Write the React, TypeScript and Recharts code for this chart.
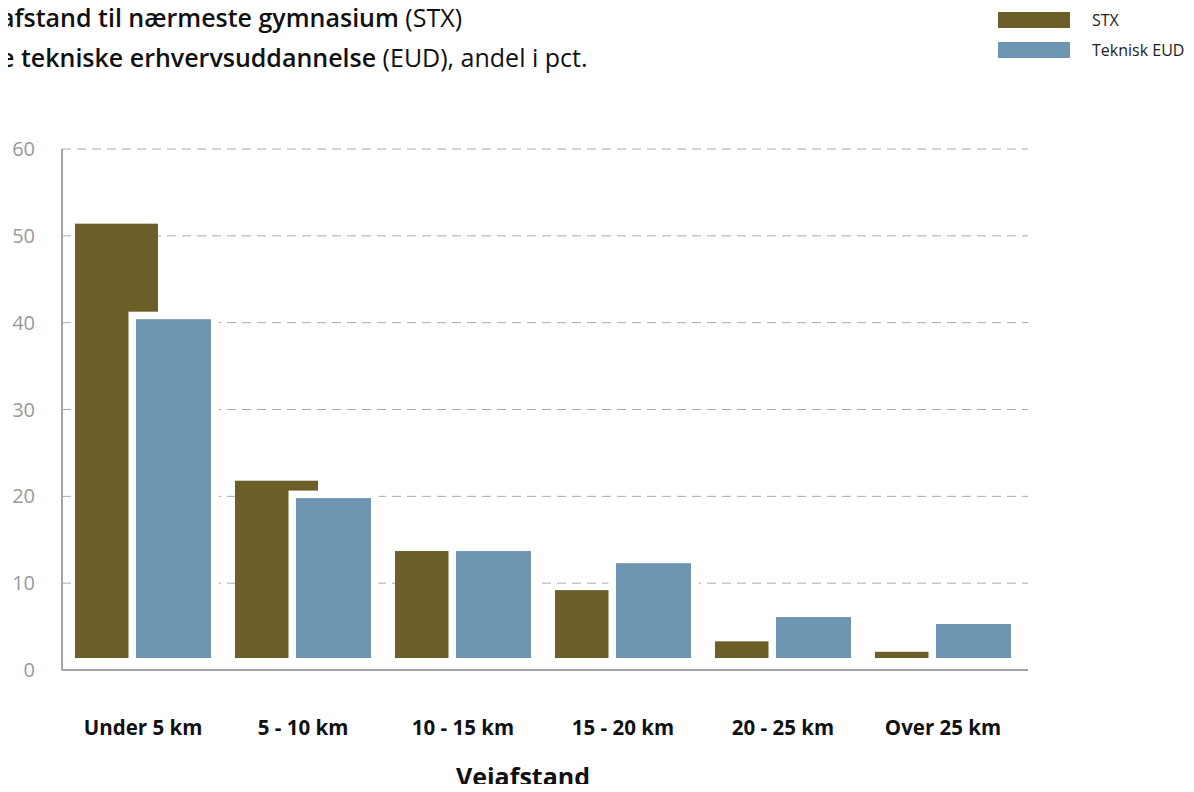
import React from "react";
import { BarChart, Bar, XAxis, YAxis, CartesianGrid } from "recharts";

const categories = ["Under 5 km", "5 - 10 km", "10 - 15 km", "15 - 20 km", "20 - 25 km", "Over 25 km"];
const stxValues = [51.4, 21.8, 13.7, 9.2, 3.3, 2.1];
const eudValues = [40.4, 19.8, 13.7, 12.3, 6.1, 5.3];
const yTicks = [0, 10, 20, 30, 40, 50, 60];

const STX_COLOR = "#6b5e28";
const EUD_COLOR = "#6e96b2";
const FONT = "'Open Sans', 'Noto Sans', sans-serif";

const data = categories.map((c, i) => ({ name: c, stx: stxValues[i], eud: eudValues[i] }));

// bars stop a little above the zero line in the original
const BOTTOM_GAP = 12;

const StxShape = (props: any) => {
  const { x, y, width, height } = props;
  const h = Math.max(0, height - BOTTOM_GAP);
  return <rect x={x} y={y} width={width} height={h} fill={STX_COLOR} />;
};

const EudShape = (props: any) => {
  const { x, y, width, height } = props;
  const h = Math.max(0, height - BOTTOM_GAP);
  const pad = 7.5;
  return (
    <g>
      <rect x={x - pad} y={y - pad} width={width + pad * 2} height={h + pad} fill="#fff" />
      <rect x={x} y={y} width={width} height={h} fill={EUD_COLOR} />
    </g>
  );
};

const XTick = (props: any) => {
  const { x, y, payload } = props;
  return (
    <text x={x} y={y + 63} textAnchor="middle" fontFamily={FONT} fontWeight={700} fontSize={20.5} fill="#111">
      {payload.value}
    </text>
  );
};

const YTick = (props: any) => {
  const { y, payload } = props;
  return (
    <text x={35} y={y + 7} textAnchor="end" fontFamily={FONT} fontSize={20} fill="#9a9a9a">
      {payload.value}
    </text>
  );
};

export default function App() {
  return (
    <div style={{ position: "relative", width: 1194, height: 792, margin: -8, overflow: "hidden", background: "#fff", fontFamily: FONT }}>
      <div style={{ position: "absolute", left: 0, top: 1, fontSize: 25, color: "#111", lineHeight: "33px", whiteSpace: "nowrap" }}>
        <div>
          <span style={{ fontWeight: 600 }}>afstand til nærmeste gymnasium</span> (STX)
        </div>
        <div style={{ marginTop: 7 }}>
          <span style={{ fontWeight: 600 }}>e tekniske erhvervsuddannelse</span> (EUD), andel i pct.
        </div>
      </div>

      <div style={{ position: "absolute", left: 998, top: 12, fontSize: 16, color: "#222" }}>
        <div style={{ display: "flex", alignItems: "center", height: 16, marginBottom: 14 }}>
          <div style={{ width: 72, height: 16, background: STX_COLOR }} />
          <span style={{ marginLeft: 22, whiteSpace: "nowrap" }}>STX</span>
        </div>
        <div style={{ display: "flex", alignItems: "center", height: 16 }}>
          <div style={{ width: 72, height: 16, background: EUD_COLOR }} />
          <span style={{ marginLeft: 22, whiteSpace: "nowrap" }}>Teknisk EUD</span>
        </div>
      </div>

      <div style={{ position: "absolute", left: 0, top: 0 }}>
        <BarChart
          width={1194}
          height={792}
          data={data}
          margin={{ top: 149, right: 166, bottom: 62, left: 0 }}
          barGap={-22}
          barCategoryGap={0}
        >
          <CartesianGrid vertical={false} stroke="#aaa" strokeDasharray="9 6" />
          <XAxis
            dataKey="name"
            height={60}
            tickLine={false}
            tickSize={0}
            tick={<XTick />}
            axisLine={{ stroke: "#a5a5a5", strokeWidth: 2 }}
            padding={{ left: 1, right: 5 }}
            interval={0}
          />
          <YAxis
            width={62}
            domain={[0, 60]}
            ticks={yTicks}
            tickLine={false}
            tick={<YTick />}
            axisLine={{ stroke: "#a5a5a5", strokeWidth: 2 }}
          />
          <Bar dataKey="stx" barSize={83} shape={<StxShape />} isAnimationActive={false} />
          <Bar dataKey="eud" barSize={75} shape={<EudShape />} isAnimationActive={false} />
        </BarChart>
      </div>

      <div style={{ position: "absolute", left: 423, width: 200, top: 763, lineHeight: "26px", textAlign: "center", fontSize: 25, fontWeight: 700, color: "#111" }}>
        Vejafstand
      </div>
    </div>
  );
}
